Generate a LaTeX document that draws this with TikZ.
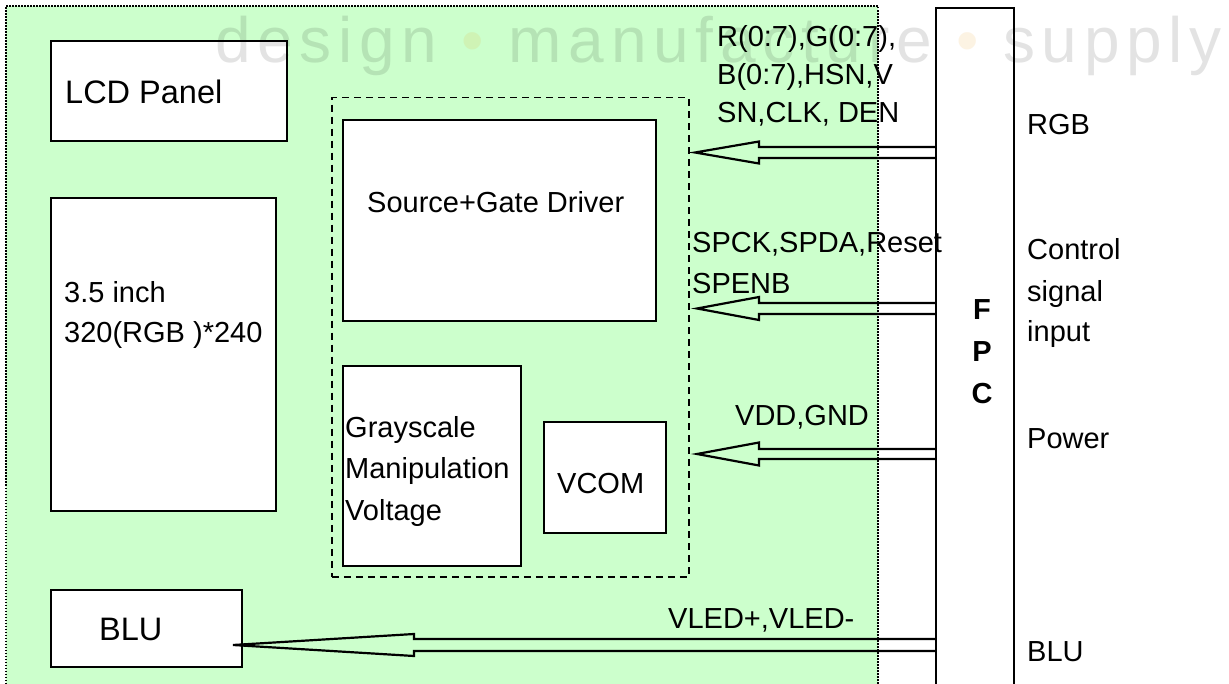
\documentclass[tikz,border=0pt]{standalone}
\usepackage{fontspec}
\setmainfont{Liberation Sans}
\newfontfamily\wmfont[LetterSpace=10.5]{Liberation Sans}
\usetikzlibrary{calc}
\definecolor{bggreen}{RGB}{204,255,204}
\definecolor{wmdot}{RGB}{235,150,0}
\newcommand\hollowarrow[5]{% #1 centre y, #2 tip x, #3 head base x, #4 half shaft, #5 half head
  \draw[arrowline] (fpc.west |- 0,{#1-#4}) -- (#3,{#1-#4}) -- (#3,{#1-#5}) -- (#2,#1)
    -- (#3,{#1+#5}) -- (#3,{#1+#4}) -- (fpc.west |- 0,{#1+#4});}
\begin{document}
\begin{tikzpicture}[x=1pt,y=-1pt,
  box/.style={draw, line width=2pt, fill=white, inner sep=0, anchor=north west},
  dashbox/.style={draw, line width=1.5pt, dash pattern=on 7pt off 5pt, inner sep=0, anchor=north west},
  txt/.style={inner sep=0, anchor=base west, font=\fontsize{29}{29}\selectfont},
  bigtxt/.style={txt, font=\fontsize{32.5}{32.5}\selectfont},
  fpctxt/.style={inner sep=0, anchor=base, font=\fontsize{29}{29}\selectfont\bfseries},
  arrowline/.style={draw, line width=2.2pt, line join=miter},
]
\useasboundingbox (0,0) rectangle (1229,684);
% green area
\fill[bggreen] (6,6) rectangle (878,684);
\draw[line width=1.5pt, dash pattern=on 1.5pt off 1.5pt] (6,684) -- (6,6) -- (878,6) -- (878,684);
% boxes
\node[box, minimum width=236, minimum height=100] (lcd) at (50,40) {};
\node[box, minimum width=225, minimum height=313] (panel) at (50,197) {};
\node[dashbox, minimum width=357, minimum height=479] (drv) at (331,97) {};
\node[box, minimum width=313, minimum height=201] (sgd) at (342,119) {};
\node[box, minimum width=178, minimum height=200] (gray) at (342,365) {};
\node[box, minimum width=122, minimum height=111] (vcom) at (543,421) {};
\node[box, minimum width=191, minimum height=77] (blu) at (50,589) {};
\node[box, minimum width=78, minimum height=700] (fpc) at (935,7) {};
% arrows
\hollowarrow{152.5}{695}{759}{5.5}{11}
\hollowarrow{308.5}{697}{759}{5.5}{11.5}
\hollowarrow{454}{697}{759}{5}{11.5}
\hollowarrow{645}{233}{414}{6}{11}
% texts
\node[bigtxt] (tlcd) at (65,104) {LCD Panel};
\node[txt] (tp1) at (64,303) {3.5 inch};
\node[txt] (tp2) at (64,343) {320(RGB )*240};
\node[txt] (tsgd) at (367,213) {Source+Gate Driver};
\node[txt] (tg1) at (345,438) {Grayscale};
\node[txt] (tg2) at (345,478) {Manipulation};
\node[txt] (tg3) at (345,520) {Voltage};
\node[txt] (tvcom) at (557,493) {VCOM};
\node[bigtxt] (tblu) at (99,640) {BLU};
\node[txt] (tr1) at (717,47) {R(0:7),G(0:7),};
\node[txt] (tr2) at (717,85) {B(0:7),HSN,V};
\node[txt] (tr3) at (717,123) {SN,CLK, DEN};
\node[txt] (ts1) at (692,253) {SPCK,SPDA,Reset};
\node[txt] (ts2) at (692,294) {SPENB};
\node[txt] (tv) at (735,425) {VDD,GND};
\node[txt] (tl) at (668,628) {VLED+,VLED-};
\node[txt] (rr) at (1027,135) {RGB};
\node[txt] (rc1) at (1027,260) {Control};
\node[txt] (rc2) at (1027,302) {signal};
\node[txt] (rc3) at (1027,342) {input};
\node[txt] (rp) at (1027,449) {Power};
\node[txt] (rb) at (1027,661) {BLU};
\node[fpctxt] (f1) at (982,320) {F};
\node[fpctxt] (f2) at (982,362) {P};
\node[fpctxt] (f3) at (982,403) {C};
% watermark
\node[inner sep=0, anchor=base west, opacity=0.11, font=\wmfont\fontsize{64}{64}\selectfont] (wm) at (215,63)
  {design {\color{wmdot}•} manufacture {\color{wmdot}•} supply};
\end{tikzpicture}
\end{document}
